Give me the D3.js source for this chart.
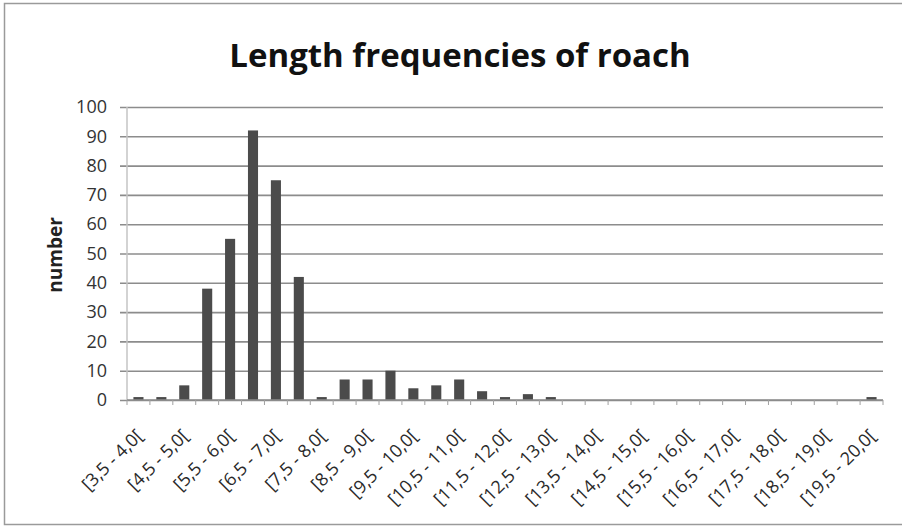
<!DOCTYPE html>
<html>
<head>
<meta charset="utf-8">
<script src="https://cdn.jsdelivr.net/npm/d3@7"></script>
<style>
  body { margin: 0; background: #fff; }
  svg { display: block; font-family: "Open Sans", "Noto Sans", sans-serif; }
</style>
</head>
<body>
<svg id="chart" width="902" height="530"></svg>
<script>
// length classes (cm) and number of roach in each
var classes = ["[3,5 - 4,0[", "[4,0 - 4,5[", "[4,5 - 5,0[", "[5,0 - 5,5[", "[5,5 - 6,0[", "[6,0 - 6,5[",
  "[6,5 - 7,0[", "[7,0 - 7,5[", "[7,5 - 8,0[", "[8,0 - 8,5[", "[8,5 - 9,0[", "[9,0 - 9,5[",
  "[9,5 - 10,0[", "[10,0 - 10,5[", "[10,5 - 11,0[", "[11,0 - 11,5[", "[11,5 - 12,0[", "[12,0 - 12,5[",
  "[12,5 - 13,0[", "[13,0 - 13,5[", "[13,5 - 14,0[", "[14,0 - 14,5[", "[14,5 - 15,0[", "[15,0 - 15,5[",
  "[15,5 - 16,0[", "[16,0 - 16,5[", "[16,5 - 17,0[", "[17,0 - 17,5[", "[17,5 - 18,0[", "[18,0 - 18,5[",
  "[18,5 - 19,0[", "[19,0 - 19,5[", "[19,5 - 20,0["];
var counts = [1, 1, 5, 38, 55, 92, 75, 42, 1, 7, 7, 10, 4, 5, 7, 3, 1, 2, 1,
  0, 0, 0, 0, 0, 0, 0, 0, 0, 0, 0, 0, 0, 1];
var yTicks = [0, 10, 20, 30, 40, 50, 60, 70, 80, 90, 100];
// only every other class gets a label on the axis
var shownLabels = classes.filter(function (d, i) { return i % 2 == 0; });

var svg = d3.select("#chart"),
  margin = { top: 107, right: 19, bottom: 130, left: 127 };
var width = 902 - margin.left - margin.right,
  height = 530 - margin.top - margin.bottom;

// chart frame
svg.append("rect")
  .attr("x", 4.5).attr("y", 3.5)
  .attr("width", 900).attr("height", 521)
  .attr("fill", "#fff")
  .attr("stroke", "#9a9a9a")
  .attr("stroke-width", 1.5);

svg.append("text")
  .attr("x", 460)
  .attr("y", 67)
  .attr("text-anchor", "middle")
  .attr("font-size", "33px")
  .attr("font-weight", "bold")
  .attr("fill", "#111")
  .text("Length frequencies of roach");

var g = svg.append("g")
  .attr("transform", "translate(" + margin.left + "," + margin.top + ")");

var x = d3.scaleBand()
  .domain(classes)
  .range([0, width])
  .paddingInner(0.56)
  .paddingOuter(0.28);

var y = d3.scaleLinear()
  .domain([0, 100])
  .range([height, 0]);

// horizontal gridlines, reaching a little left of the axis like excel tick marks
g.append("g")
  .attr("class", "grid")
  .attr("transform", "translate(-7,0)")
  .call(d3.axisLeft(y).tickValues(yTicks).tickSize(-(width + 7)).tickFormat(""))
  .call(function (s) {
    s.select(".domain").remove();
    s.selectAll("line").attr("stroke", "#8c8c8c").attr("stroke-width", 1.6);
  });

// vertical axis line
g.append("line")
  .attr("x1", 0).attr("x2", 0)
  .attr("y1", 0).attr("y2", height)
  .attr("stroke", "#c4c4c4")
  .attr("stroke-width", 1.5);

// y labels
g.append("g")
  .call(d3.axisLeft(y).tickValues(yTicks).tickSize(0).tickPadding(20))
  .call(function (s) {
    s.select(".domain").remove();
    s.selectAll("text")
      .attr("font-size", "18px")
      .attr("font-family", "'Open Sans', sans-serif")
      .attr("fill", "#333");
  });

svg.append("text")
  .attr("transform", "translate(62," + 255 + ") rotate(-90)")
  .attr("text-anchor", "middle")
  .attr("font-size", "19px")
  .attr("font-weight", "bold")
  .attr("fill", "#222")
  .text("number");

// bars
g.append("g").selectAll("rect")
  .data(counts)
  .enter().append("rect")
  .attr("x", function (d, i) { return x(classes[i]); })
  .attr("y", function (d) { return y(d); })
  .attr("width", x.bandwidth())
  .attr("height", function (d) { return height - y(d); })
  .attr("fill", "#4b4b4b");

// x axis line with tick marks between the classes
var step = x.step();
var xAxis = g.append("g")
  .attr("transform", "translate(0," + height + ")");
xAxis.append("line")
  .attr("x1", 0).attr("x2", width)
  .attr("stroke", "#8c8c8c")
  .attr("stroke-width", 1.6);
xAxis.selectAll(".sep")
  .data(d3.range(classes.length + 1))
  .enter().append("line")
  .attr("class", "sep")
  .attr("x1", function (d) { return d * step; })
  .attr("x2", function (d) { return d * step; })
  .attr("y1", 0).attr("y2", 5)
  .attr("stroke", "#a0a0a0");

// rotated class labels
xAxis.append("g")
  .attr("transform", "translate(" + (-step * 0.2) + ",0)")
  .call(d3.axisBottom(x).tickValues(shownLabels).tickSize(0).tickPadding(0))
  .call(function (s) {
    s.select(".domain").remove();
    s.selectAll("text")
      .attr("font-size", "18px")
      .attr("font-family", "'Open Sans', sans-serif")
      .attr("fill", "#2a2a2a")
      .attr("text-anchor", "end")
      .attr("dy", "0")
      .attr("transform", "translate(10,37) rotate(-45)");
  });
</script>
</body>
</html>
